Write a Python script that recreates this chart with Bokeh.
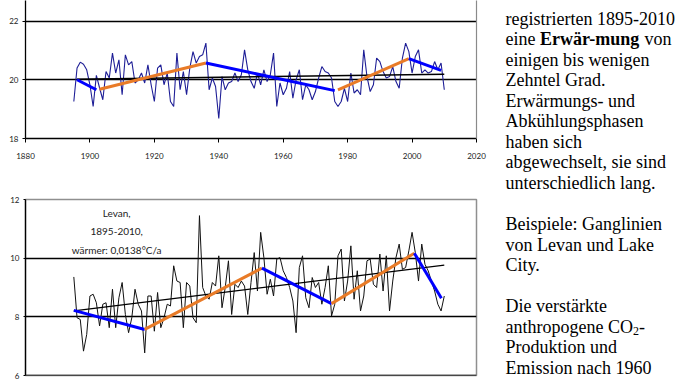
from bokeh.plotting import figure
from bokeh.models import Range1d, FixedTicker, LinearAxis, Label, Span
from bokeh.layouts import row, column
from bokeh.embed import file_html
from bokeh.resources import INLINE

# ---------------- data ----------------
years = list(range(1895, 2011))

lake_city = [19.26, 20.40, 20.60, 20.53, 20.34, 19.83, 19.09, 20.15, 19.72, 19.32,
             20.28, 20.06, 20.91, 20.23, 20.68, 19.49, 20.85, 20.51, 20.62, 19.89,
             20.00, 20.23, 19.89, 20.51, 19.83, 19.26, 20.40, 20.51, 19.83, 20.23,
             19.26, 19.09, 20.91, 19.66, 20.28, 19.49, 20.40, 20.96, 20.57, 20.79,
             20.85, 21.25, 19.66, 20.06, 19.77, 18.68, 20.11, 19.66, 19.89, 19.94,
             20.23, 19.94, 20.17, 21.02, 20.34, 19.94, 19.71, 20.23, 19.83, 20.34,
             19.94, 20.17, 20.91, 19.09, 19.89, 19.49, 19.71, 20.28, 19.37, 20.00,
             20.34, 19.32, 19.83, 19.66, 19.32, 19.60, 20.06, 20.45, 20.28, 20.23,
             20.06, 19.26, 19.09, 19.26, 19.71, 19.26, 20.23, 19.55, 19.66, 19.49,
             21.02, 20.11, 19.60, 19.83, 20.74, 20.62, 20.28, 20.06, 20.11, 20.45,
             19.94, 19.71, 20.74, 21.25, 20.96, 20.23, 20.79, 21.02, 20.23, 20.34,
             20.23, 20.28, 20.62, 20.34, 20.57, 19.66]

levan = [9.36, 7.97, 7.91, 6.83, 7.40, 8.71, 8.77, 8.48, 7.69, 8.43,
         8.48, 7.63, 8.94, 7.63, 8.65, 9.17, 8.08, 7.46, 7.97, 8.94,
         8.43, 8.20, 6.77, 8.71, 8.71, 7.51, 8.83, 7.63, 7.97, 8.43,
         8.37, 9.74, 9.22, 9.17, 7.63, 9.17, 9.05, 7.97, 7.80, 11.45,
         9.00, 8.71, 8.60, 9.17, 9.05, 10.08, 8.31, 9.00, 9.91, 8.08,
         9.11, 9.00, 9.22, 9.05, 8.08, 9.17, 10.19, 8.88, 10.88, 10.02,
         8.77, 9.28, 8.71, 9.97, 10.02, 9.57, 9.34, 9.00, 8.54, 7.46,
         9.68, 10.08, 8.65, 8.31, 9.34, 9.00, 9.17, 8.43, 9.00, 9.74,
         8.03, 8.43, 10.08, 10.31, 8.54, 9.22, 10.42, 8.60, 9.57, 8.20,
         8.71, 9.91, 9.97, 9.11, 9.00, 10.14, 8.88, 10.08, 8.20, 9.22,
         10.02, 10.48, 9.62, 9.68, 10.25, 10.88, 10.19, 9.22, 10.48, 9.79,
         9.57, 9.22, 8.88, 8.43, 8.20, 8.71]

# phase segments (start/end year, start/end value); kind: 'cool' or 'warm'
lake_phase_years = [[1896, 1902], [1903, 1936], [1936, 1976], [1977, 1999], [1999, 2009]]
lake_phase_vals = [[20.00, 19.66], [19.68, 20.57], [20.57, 19.63], [19.66, 20.72], [20.72, 20.32]]
lake_phase_kind = ["cool", "warm", "cool", "warm", "cool"]
lake_trend_years = [1896, 2010]
lake_trend_vals = [20.02, 20.19]

levan_phase_years = [[1895, 1917], [1917, 1953.4], [1953.4, 1975], [1975, 2000.7], [2000.7, 2009.1]]
levan_phase_vals = [[8.22, 7.57], [7.57, 9.66], [9.66, 8.45], [8.45, 10.17], [10.17, 8.63]]
levan_phase_kind = ["cool", "warm", "cool", "warm", "cool"]
levan_trend_years = [1895, 2010]
levan_trend_vals = [8.20, 9.76]

x_ticks = [1880, 1900, 1920, 1940, 1960, 1980, 2000, 2020]
top_y_ticks = [18, 20, 22]
bottom_y_ticks = [6, 8, 10, 12]

levan_note = ["Levan,", "1895-2010,", "wärmer: 0,0138°C/a"]

BLUE = "#0000ff"
ORANGE = "#e97b27"
TICK_FONT = "Lato"


def style_y(p, tick_out, standoff):
    for ax in p.yaxis:
        ax.axis_line_color = "black"
        ax.axis_line_width = 1.3
        ax.major_tick_out = tick_out
        ax.major_tick_in = 0
        ax.minor_tick_line_color = None
        ax.major_label_standoff = standoff
        ax.major_label_text_font = TICK_FONT
        ax.major_label_text_font_size = "8px"
        ax.major_label_text_color = "#222222"
    p.xgrid.visible = False


# ---------------- top chart (Lake City) ----------------
p1 = figure(width=495, height=170, x_range=Range1d(1880, 2020), y_range=Range1d(18, 22.70),
            output_backend="svg", toolbar_location=None, title=None,
            min_border_left=25, min_border_right=13, min_border_top=0, min_border_bottom=32,
            outline_line_color=None, background_fill_color="white")
style_y(p1, 3, 4)
p1.yaxis.ticker = FixedTicker(ticks=top_y_ticks)
p1.xaxis.ticker = FixedTicker(ticks=x_ticks)
xa = p1.xaxis[0]
xa.axis_line_color = "black"
xa.axis_line_width = 1.3
xa.major_tick_out = 4
xa.major_tick_in = 0
xa.minor_tick_line_color = None
xa.major_label_standoff = 10
xa.major_label_text_font = TICK_FONT
xa.major_label_text_font_size = "8px"
xa.major_label_text_color = "#222222"
p1.ygrid.ticker = FixedTicker(ticks=[20, 22])
p1.ygrid.grid_line_color = "black"
p1.ygrid.grid_line_width = 1.4
right_border = LinearAxis(ticker=FixedTicker(ticks=[]), major_label_text_font_size="8px",
                          axis_line_color="#8a8a8a", axis_line_width=1.2,
                          major_tick_line_color=None, minor_tick_line_color=None)
p1.add_layout(right_border, "right")

p1.line(years, lake_city, line_color="#1e1e96", line_width=1.1)
p1.line(lake_trend_years, lake_trend_vals, line_color="black", line_width=1.5)
for yrs, vals, kind in zip(lake_phase_years, lake_phase_vals, lake_phase_kind):
    p1.line(yrs, vals, line_color=BLUE if kind == "cool" else ORANGE, line_width=3)

# ---------------- bottom chart (Levan) ----------------
p2 = figure(width=495, height=211, x_range=Range1d(1880, 2020), y_range=Range1d(6, 12),
            output_backend="svg", toolbar_location=None, title=None,
            min_border_left=22, min_border_right=19, min_border_top=29, min_border_bottom=6,
            outline_line_color="#8f8f8f", outline_line_width=1.5, background_fill_color="white")
style_y(p2, 2, 4)
p2.yaxis.ticker = FixedTicker(ticks=bottom_y_ticks)
p2.xaxis.visible = False
p2.ygrid.ticker = FixedTicker(ticks=[8, 10])
p2.ygrid.grid_line_color = "black"
p2.ygrid.grid_line_width = 1.4
p2.add_layout(Span(location=6, dimension="width", line_color="black", line_width=1.6))

p2.line(years, levan, line_color="#111111", line_width=1)
p2.line(levan_trend_years, levan_trend_vals, line_color="black", line_width=1.2)
for yrs, vals, kind in zip(levan_phase_years, levan_phase_vals, levan_phase_kind):
    p2.line(yrs, vals, line_color=BLUE if kind == "cool" else ORANGE, line_width=3)

for txt, yv in zip(levan_note, [11.53, 10.90, 10.27]):
    p2.add_layout(Label(x=1908.3, y=yv, text=txt, text_align="center", text_baseline="middle",
                        text_font="Lato", text_font_size="10px", text_color="#222222"))

# ---------------- right text column ----------------
p3 = figure(width=183, height=381, x_range=Range1d(0, 183), y_range=Range1d(381, 0),
            output_backend="svg", toolbar_location=None, title=None,
            min_border=0, outline_line_color=None)
p3.axis.visible = False
p3.grid.visible = False

SERIF = "Liberation Serif"
FS = "18px"
X0 = 10
B0 = 18
LH = 20.55

lines = {
    0: "registrierten 1895-2010",
    2: "einigen bis wenigen",
    3: "Zehntel Grad.",
    4: "Erwärmungs- und",
    5: "Abkühlungsphasen",
    6: "haben sich",
    7: "abgewechselt, sie sind",
    8: "unterschiedlich lang.",
    10: "Beispiele: Ganglinien",
    11: "von Levan und Lake",
    12: "City.",
    14: "Die verstärkte",
    16: "Produktion und",
    17: "Emission nach 1960",
    18: "sich in der Ganglinie",
}


def add_txt(x, i, txt, style="normal", size=FS, dy=0.0):
    p3.add_layout(Label(x=x, y=B0 + LH * i + dy, text=txt, text_font=SERIF, text_font_size=size,
                        text_font_style=style, text_baseline="alphabetic", text_align="left",
                        text_color="black"))


for i, t in lines.items():
    add_txt(X0, i, t)
# mixed line with bold word
add_txt(X0, 1, "eine")
add_txt(X0 + 34.5, 1, "Erwär-mung", style="bold")
add_txt(X0 + 139.0, 1, "von")
# CO2 with subscript
add_txt(X0, 15, "anthropogene CO")
add_txt(X0 + 127.5, 15, "2", size="12px", dy=4)
add_txt(X0 + 133.5, 15, "-")

layout = row(column(p1, p2), p3)
open("out.html", "w").write(file_html(layout, INLINE))
